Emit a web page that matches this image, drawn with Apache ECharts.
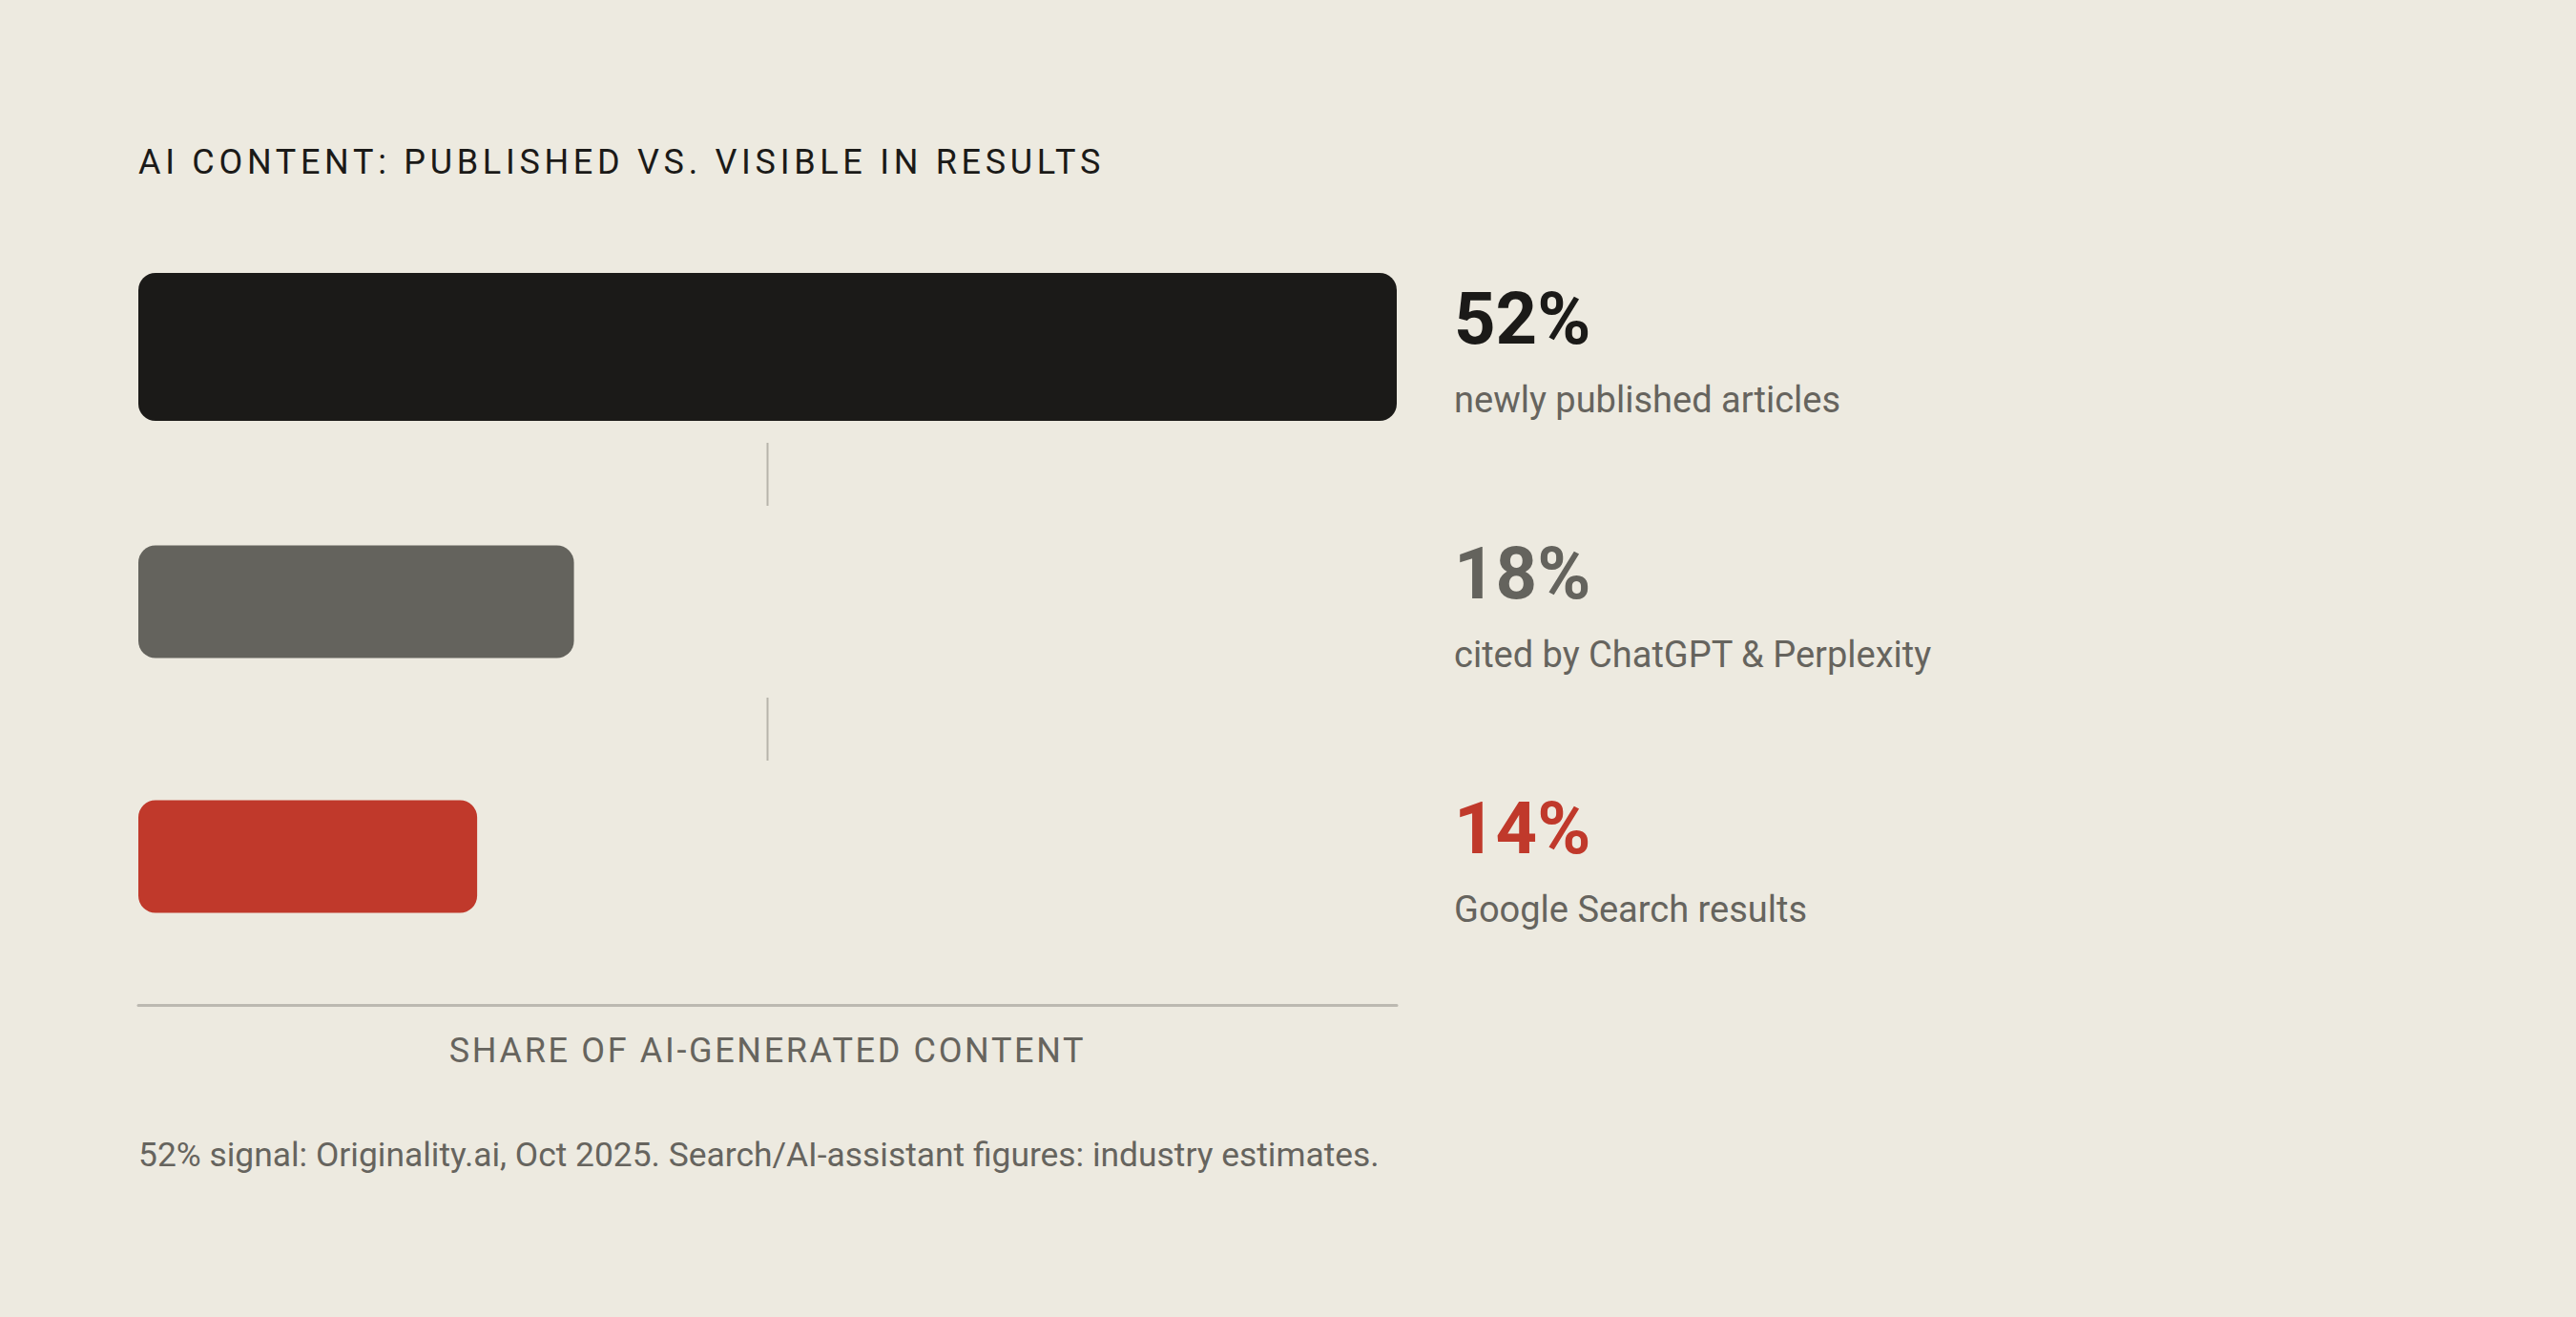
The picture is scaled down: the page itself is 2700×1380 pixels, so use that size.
<!DOCTYPE html>
<html><head><meta charset="utf-8">
<script src="https://cdn.jsdelivr.net/npm/echarts@6/dist/echarts.min.js"></script>
<style>html,body{margin:0;padding:0;background:#EDEAE0;} #chart{width:2700px;height:1380px;}</style>
</head><body><div id="chart"></div>
<script>
const categories = ['newly published articles', 'cited by ChatGPT & Perplexity', 'Google Search results'];
const values = [52, 18, 14];
const valueLabels = values.map(v => v + '%');
const titleText = 'AI CONTENT: PUBLISHED VS. VISIBLE IN RESULTS';
const axisTitle = 'SHARE OF AI-GENERATED CONTENT';
const footnote = '52% signal: Originality.ai, Oct 2025. Search/AI-assistant figures: industry estimates.';

const xMax = 52;
const barColors = ['#1B1A18', '#64635D', '#C0392B'];
const labelColors = ['#1B1A18', '#64635D', '#C0392B'];
const barThickness = [155, 118, 118];
const FONT = 'Roboto, "Noto Sans", sans-serif';

function renderItem(params, api) {
  const i = params.dataIndex;
  const v = api.value(0);
  const start = api.coord([0, i]);
  const end = api.coord([v, i]);
  const h = barThickness[i];
  const cy = start[1];
  const labelX = api.coord([xMax, i])[0] + 60;
  const children = [
    { type: 'rect', shape: { x: start[0], y: cy - h / 2, width: end[0] - start[0], height: h, r: 18 }, style: { fill: barColors[i] } },
    { type: 'text', style: { x: labelX, y: cy - 30, text: valueLabels[i], fill: labelColors[i], fontSize: 76, fontWeight: 'bold', fontFamily: FONT, align: 'left', verticalAlign: 'middle' } },
    { type: 'text', style: { x: labelX, y: cy + 55, text: categories[i], fill: '#66645E', fontSize: 38, fontFamily: FONT, align: 'left', verticalAlign: 'middle' } }
  ];
  if (i > 0) {
    const prev = api.coord([0, i - 1]);
    const mid = (prev[1] + cy) / 2;
    const cx = api.coord([xMax / 2, i])[0];
    children.push({ type: 'line', shape: { x1: cx, y1: mid - 33, x2: cx, y2: mid + 33 }, style: { stroke: '#B7B4AB', lineWidth: 2 } });
  }
  return { type: 'group', children };
}

const chart = echarts.init(document.getElementById('chart'), null, { renderer: 'svg' });
chart.setOption({
  animation: false,
  backgroundColor: '#EDEAE0',
  title: [
    { text: titleText, left: 145, top: 152, padding: 0, textStyle: { fontSize: 36, fontWeight: 'normal', color: '#1B1A18', fontFamily: FONT } },
    { text: footnote, left: 145, top: 1192, padding: 0, textStyle: { fontSize: 35.4, fontWeight: 'normal', color: '#66645E', fontFamily: FONT } }
  ],
  grid: { left: 145, right: 1236, top: 230, bottom: 349 },
  xAxis: {
    type: 'value', min: 0, max: xMax,
    offset: 22,
    axisLine: { show: true, lineStyle: { color: '#BCB9B1', width: 3 } },
    axisTick: { show: false }, axisLabel: { show: false }, splitLine: { show: false },
    name: axisTitle, nameLocation: 'middle', nameGap: 30,
    nameTextStyle: { fontSize: 36, color: '#66645E', fontFamily: FONT }
  },
  yAxis: { type: 'category', data: categories, inverse: true, show: false },
  series: [{
    type: 'custom',
    renderItem: renderItem,
    encode: { x: 0, y: 1 },
    data: values.map((v, i) => [v, i])
  }]
});

// letter-spaced headings
const spacing = {};
spacing[titleText] = '4.7px';
spacing[axisTitle] = '2.66px';
function applySpacing() {
  document.querySelectorAll('#chart svg text').forEach(t => {
    const s = (t.textContent || '').trim();
    if (spacing[s]) {
      t.style.letterSpacing = spacing[s];
      t.setAttribute('letter-spacing', spacing[s]);
    }
  });
}
applySpacing();
chart.on('finished', applySpacing);
setTimeout(applySpacing, 30);
setTimeout(applySpacing, 300);
</script>
</body></html>
